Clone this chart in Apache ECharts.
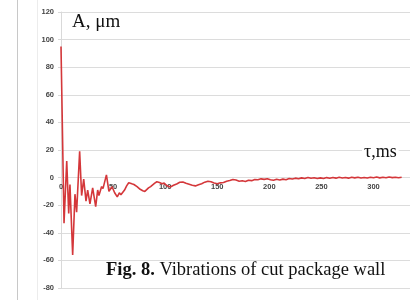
<!DOCTYPE html>
<html>
<head>
<meta charset="utf-8">
<script src="https://cdn.jsdelivr.net/npm/echarts@6/dist/echarts.min.js"></script>
<style>
  html, body { margin: 0; padding: 0; background: #fff; }
  #chart { width: 410px; height: 300px; }
</style>
</head>
<body>
<div id="chart"></div>
<script>
// время, мс
const timeMs = [
  0, 2.9, 5.5, 7.4, 8.6, 11.2, 13.4, 15, 17.9, 19.8, 21.8, 24, 25.6, 27.8, 30.4, 33.3, 35.2, 36.4, 39, 40.3,
  43.6, 46, 49, 51.5, 54, 56, 57.5, 59, 61, 63, 65, 66.5, 68, 70, 73, 76, 78.5, 80.5, 82, 84, 86, 87.5, 90, 92, 94.5, 97, 99, 101, 103,
  105, 108, 111, 114, 117, 120, 123, 126, 129, 132, 135, 138, 141, 144, 147, 150, 153, 156, 159, 162, 165, 168, 171, 174, 177, 180,
  183, 186, 189, 192, 195, 198, 201, 204, 207, 210, 213, 216, 219, 222, 225, 228, 231, 234, 237, 240, 243, 246, 249, 252, 255, 258,
  261, 264, 267, 270, 273, 276, 279, 282, 285, 288, 291, 294, 297, 300, 303, 306, 309, 312, 315, 318, 321, 324, 327
];
// амплитуда, мкм
const amplitude = [
  95, -33, 12, -26, -5, -56, -12, -25, 19, -13, -1, -17, -9, -19, -7.5, -21, -9, -13, -6.5, -8,
  2, -10, -6.6, -11, -14, -11, -12.5, -11.5, -9, -6, -3.7, -5, -4.5, -5, -6.5, -8.5, -9.5, -10, -9, -7.5, -6.5, -5.4, -4, -3, -3.5, -4.5, -4, -5.5, -6.2,
  -6.8, -5.6, -4.6, -3.4, -3.2, -4.1, -4.8, -5.5, -6.0, -5.2, -4.4, -3.3, -2.6, -3.0, -3.9, -4.4, -3.8, -3.6, -2.6, -2.1, -1.4, -1.8, -2.6, -2.3, -2.8, -1.9,
  -2.2, -1.4, -1.6, -0.9, -1.3, -0.8, -1.6, -1.9, -1.2, -1.7, -1.1, -1.5, -0.6, -1.0, -0.4, -0.9, -0.2, -0.6, 0.1, -0.5, -0.1, -0.7, -0.2, -0.6, 0.0, -0.5,
  0.1, -0.4, 0.2, -0.3, 0.1, -0.4, 0.2, -0.2, 0.3, -0.3, 0.1, -0.3, 0.3, -0.1, 0.4, -0.2, 0.3, -0.1, 0.4, 0.0, 0.3, -0.1, 0.3
];
const xTicks = [0, 50, 100, 150, 200, 250, 300];

const chart = echarts.init(document.getElementById('chart'));
chart.setOption({
  animation: false,
  grid: { left: 61, right: 0, top: 12, bottom: 12 },
  xAxis: {
    type: 'value', min: 0, max: 335, interval: 50,
    // подписи оси X прямо под линией нуля
    offset: -110.4,
    axisLine: { show: false, onZero: false },
    axisTick: { show: false },
    splitLine: { show: false },
    axisLabel: {
      color: '#444', fontSize: 7.5, fontWeight: 'bold', fontFamily: 'Liberation Sans', margin: 5,
      showMaxLabel: false,
      formatter: v => xTicks.includes(v) ? String(v) : ''
    }
  },
  yAxis: {
    type: 'value', min: -80, max: 120, interval: 20,
    axisLine: { show: true, lineStyle: { color: '#d9d9d9' } },
    axisTick: { show: true, length: 3, lineStyle: { color: '#d9d9d9' } },
    splitLine: { lineStyle: { color: '#dcdcdc', width: 1 } },
    axisLabel: { color: '#444', fontSize: 7.5, fontWeight: 'bold', fontFamily: 'Liberation Sans', margin: 7 }
  },
  series: [{
    type: 'line',
    data: timeMs.map((t, i) => [t, amplitude[i]]),
    symbol: 'none',
    lineStyle: { color: '#d4373a', width: 1.6 }
  }],
  graphic: [
    { type: 'line', shape: { x1: 17.5, y1: 0, x2: 17.5, y2: 300 }, style: { stroke: '#c8c8c8', lineWidth: 1 } },
    { type: 'line', shape: { x1: 37.5, y1: 0, x2: 37.5, y2: 300 }, style: { stroke: '#ececec', lineWidth: 1 } },
    {
      type: 'text', left: 72, top: 13,
      style: { text: 'A, μm', font: '19px "Liberation Serif"', fill: '#111' }
    },
    {
      type: 'text', left: 362, top: 143, z: 10,
      style: { text: 'τ,ms', font: '18px "Liberation Serif"', fill: '#111', backgroundColor: '#fff', padding: [0, 2] }
    },
    {
      type: 'text', left: 106, top: 261,
      style: {
        text: '{b|Fig. 8.} Vibrations of cut package wall',
        font: '18.5px "Liberation Serif"', fill: '#111',
        rich: { b: { fontWeight: 'bold', fontSize: 18.5, fontFamily: 'Liberation Serif', fill: '#111' } }
      }
    }
  ]
});
</script>
</body>
</html>
